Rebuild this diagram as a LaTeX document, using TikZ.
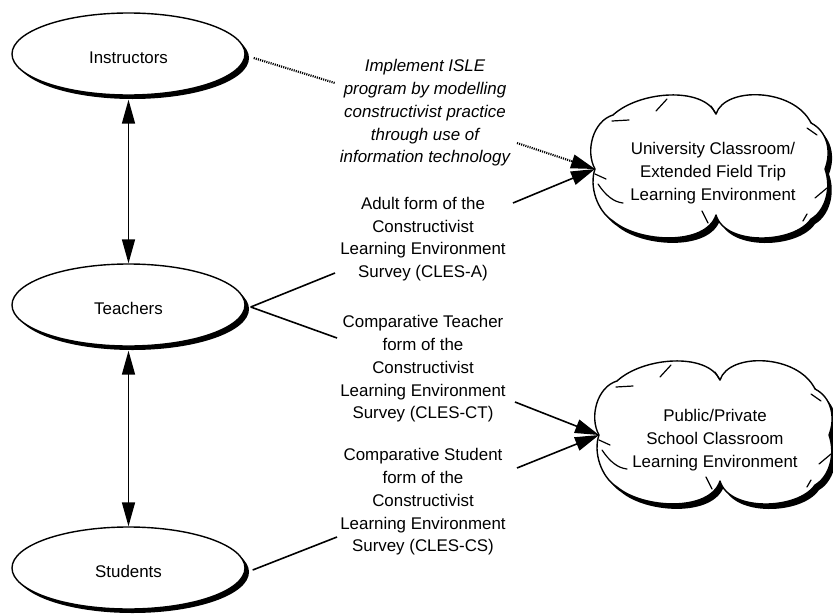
\documentclass[tikz,border=0pt]{standalone}
\usepackage{fontspec}
\setmainfont{Liberation Sans}
\usetikzlibrary{arrows.meta,shapes.geometric,shadows,calc}
\newcommand{\mycloudpath}{(-116,3) .. controls (-126,-15) and (-118,-45) .. (-98,-51)
 .. controls (-72,-75) and (-8,-80) .. (5,-52)
 .. controls (14,-80) and (83,-78) .. (100,-43)
 .. controls (116,-35) and (121,-15) .. (114,3)
 .. controls (121,23) and (114,45) .. (100,53)
 .. controls (83,78) and (14,80) .. (5,49)
 .. controls (-5,80) and (-72,77) .. (-98,55)
 .. controls (-114,45) and (-122,20) .. cycle}
\newcommand{\mycloudhooks}{(-44,-67) -- (-55,-55)
 (-99,-45) -- (-82,-46)
 (-116,8) -- (-105,13)
 (-113,18) .. controls (-105,30) and (-97,36) .. (-88,37)
 (5,-52) -- (0,-60)
 (96,-38) -- (106,-31)
 (104,32) -- (116,22)
 (-9,45) -- (-3,57)
 (96,48) -- (92,55)}
\begin{document}
\begin{tikzpicture}[x=1pt,y=-1pt,
  every node/.style={font=\fontsize{16.9}{22.7}\selectfont},
  oval/.style={ellipse, draw, line width=1.4pt, fill=white, minimum width=233pt,
    minimum height=82pt, inner sep=0pt, text height=18pt, text depth=0pt,
    drop shadow={shadow xshift=4pt, shadow yshift=-4pt, fill=black, opacity=1}},
  lbl/.style={align=center, inner sep=0pt},
  conn/.style={line width=1.6pt},
  arr/.style={conn, -{Triangle[length=24pt,width=14pt]}},
  dbl/.style={conn, {Triangle[length=24pt,width=13pt]}-{Triangle[length=24pt,width=13pt]}},
  dotline/.style={line width=2.2pt, dash pattern=on 1.1pt off 1.1pt},
  cloudline/.style={line width=1.4pt, line join=round},
  hookline/.style={line width=1.2pt, line cap=round}
]
\useasboundingbox (0,0) rectangle (833,616);
\fill[white] (0,0) rectangle (833,616);

% ellipses
\node[oval] (inst) at (128.5,54) {Instructors};
\node[oval] (teach) at (128.5,305) {Teachers};
\node[oval] (stud) at (128.5,568) {Students};

% clouds
\begin{scope}[shift={(711,166)}]
  \fill[black, xshift=4pt, yshift=-5pt] \mycloudpath;
  \draw[cloudline, fill=white] \mycloudpath;
  \draw[hookline] \mycloudhooks;
\end{scope}
\begin{scope}[shift={(715,432)}]
  \fill[black, xshift=4pt, yshift=-5pt] \mycloudpath;
  \draw[cloudline, fill=white] \mycloudpath;
  \draw[hookline] \mycloudhooks;
\end{scope}
\node[lbl] (c1) at (713,173) {University Classroom/\\Extended Field Trip\\Learning Environment};
\node[lbl] (c2) at (715,440) {Public/Private\\School Classroom\\Learning Environment};

% labels
\node[lbl, font=\fontsize{16.9}{22.7}\selectfont\itshape] (l1) at (425,113) {Implement ISLE\\program by modelling\\constructivist practice\\through use of\\information technology};
\node[lbl] (l2) at (423,239) {Adult form of the\\Constructivist\\Learning Environment\\Survey (CLES-A)};
\node[lbl] (l3) at (423,369) {Comparative Teacher\\form of the\\Constructivist\\Learning Environment\\Survey (CLES-CT)};
\node[lbl] (l4) at (423,502) {Comparative Student\\form of the\\Constructivist\\Learning Environment\\Survey (CLES-CS)};

% connector coordinates
\coordinate (t1) at (595,169);
\coordinate (t2) at (599,435);
\coordinate (d1a) at (335,83);
\coordinate (d1b) at (517,143);
\coordinate (a1a) at (335,273);
\coordinate (a1b) at (513,203);
\coordinate (a2a) at (337,338);
\coordinate (a2b) at (515,402);
\coordinate (a3a) at (517,468);
\coordinate (a3b) at (337,537);
\coordinate (d1m) at ($(d1b)!0.69!(t1)$);

% connectors
\draw[dbl] ([yshift=-4pt]inst.south) -- (teach.north);
\draw[dbl] ([yshift=-4pt]teach.south) -- (stud.north);
\draw[dotline] ([xshift=8pt,yshift=-4pt]inst.east) -- (d1a);
\draw[dotline] (d1b) -- (d1m);
\draw[arr] (d1m) -- (t1);
\draw[conn] ([xshift=5pt,yshift=-2pt]teach.east) -- (a1a);
\draw[arr] (a1b) -- (t1);
\draw[conn] ([xshift=5pt,yshift=-2pt]teach.east) -- (a2a);
\draw[arr] (a2b) -- (t2);
\draw[arr] (a3a) -- (t2);
\draw[conn] (a3b) -- ([xshift=7pt,yshift=-2pt]stud.east);
\end{tikzpicture}
\end{document}
